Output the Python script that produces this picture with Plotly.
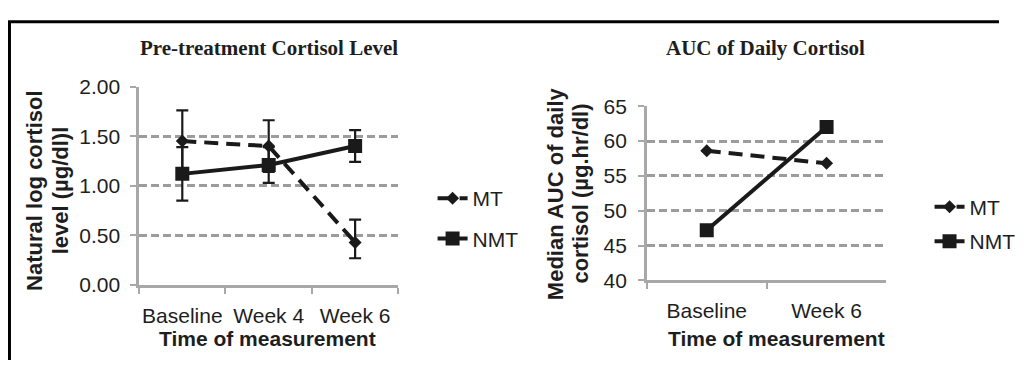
import plotly.graph_objects as go

# page has an 8px body margin; the figure is sized so the page fits the window
OFF = 8
W, H = 1029 - 2 * OFF, 379 - 2 * OFF

# ---------- data ----------
cats_left = ["Baseline", "Week 4", "Week 6"]
mt_left = [1.45, 1.40, 0.43]
mt_left_err_plus = [0.31, 0.26, 0.23]
mt_left_err_minus = [0.31, 0.26, 0.16]
nmt_left = [1.12, 1.21, 1.40]
nmt_left_err_plus = [0.27, 0.18, 0.16]
nmt_left_err_minus = [0.27, 0.18, 0.16]

cats_right = ["Baseline", "Week 6"]
mt_right = [58.6, 56.8]
nmt_right = [47.2, 62.0]

left_yticks = [0.0, 0.5, 1.0, 1.5, 2.0]
right_yticks = [40, 45, 50, 55, 60, 65]

# ---------- helpers (reference-window pixels -> paper) ----------
def px(x):
    return (x - OFF) / W

def py(y):
    return 1 - (y - OFF) / H

FONT = "Liberation Sans, Arial, sans-serif"
SERIF = "Liberation Serif, Times New Roman, serif"
TXT = "#1e1e1e"
GRID = "#9c9c9c"
AX = "#a8a8a8"
MT_DASH = "14px,8px"
FS = 21

fig = go.Figure()

# Left chart
fig.add_trace(go.Scatter(
    x=cats_left, y=mt_left, name="MT", mode="lines+markers",
    line=dict(color="#1a1a1a", width=4, dash=MT_DASH),
    marker=dict(symbol="diamond", size=10, color="#1a1a1a"),
    error_y=dict(type="data", symmetric=False, array=mt_left_err_plus,
                 arrayminus=mt_left_err_minus, color="#1a1a1a", thickness=2.2, width=6),
    xaxis="x", yaxis="y", legend="legend", legendgroup="mt1",
))
fig.add_trace(go.Scatter(
    x=cats_left, y=nmt_left, name="NMT", mode="lines+markers",
    line=dict(color="#1a1a1a", width=4),
    marker=dict(symbol="square", size=14, color="#1a1a1a"),
    error_y=dict(type="data", symmetric=False, array=nmt_left_err_plus,
                 arrayminus=nmt_left_err_minus, color="#1a1a1a", thickness=2.2, width=6),
    xaxis="x", yaxis="y", legend="legend", legendgroup="nmt1",
))

# Right chart
fig.add_trace(go.Scatter(
    x=cats_right, y=mt_right, name="MT", mode="lines+markers",
    line=dict(color="#1a1a1a", width=4, dash=MT_DASH),
    marker=dict(symbol="diamond", size=10, color="#1a1a1a"),
    xaxis="x2", yaxis="y2", legend="legend2", legendgroup="mt2",
))
fig.add_trace(go.Scatter(
    x=cats_right, y=nmt_right, name="NMT", mode="lines+markers",
    line=dict(color="#1a1a1a", width=4),
    marker=dict(symbol="square", size=14, color="#1a1a1a"),
    xaxis="x2", yaxis="y2", legend="legend2", legendgroup="nmt2",
))

axis_common = dict(
    showline=True, linecolor=AX, linewidth=2.5,
    ticks="outside", tickcolor=AX, tickwidth=2, ticklen=6,
    tickfont=dict(family=FONT, size=FS, color=TXT),
    zeroline=False, fixedrange=True, tickangle=0,
)

fig.update_layout(
    width=W, height=H,
    margin=dict(l=0, r=0, t=0, b=0),
    paper_bgcolor="white", plot_bgcolor="white",
    xaxis=dict(domain=[px(142), px(407)], anchor="y", type="category",
               range=[-0.5, 2.5], tickson="boundaries", showgrid=False,
               ticklabelstandoff=10, **axis_common),
    yaxis=dict(domain=[py(291), py(79)], anchor="x", range=[0, 2],
               tickvals=left_yticks, tickformat=".2f",
               showgrid=True, gridcolor=GRID, gridwidth=2.5, griddash="8px,4px",
               ticklabelstandoff=6, **axis_common),
    xaxis2=dict(domain=[px(661), px(906)], anchor="y2", type="category",
                range=[-0.5, 1.5], tickson="boundaries", showgrid=False,
                ticklabelstandoff=10, **axis_common),
    yaxis2=dict(domain=[py(286), py(100)], anchor="x2", range=[40, 65],
                tickvals=right_yticks,
                showgrid=True, gridcolor=GRID, gridwidth=2.5, griddash="8px,4px",
                ticklabelstandoff=7, **axis_common),
    showlegend=True,
    legend=dict(x=px(442), y=py(220), xanchor="left", yanchor="middle",
                font=dict(family=FONT, size=FS, color=TXT),
                traceorder="grouped", tracegroupgap=10,
                bgcolor="rgba(0,0,0,0)", itemwidth=30),
    legend2=dict(x=px(950), y=py(226), xanchor="left", yanchor="middle",
                 font=dict(family=FONT, size=FS, color=TXT),
                 traceorder="grouped", tracegroupgap=4,
                 bgcolor="rgba(0,0,0,0)", itemwidth=30),
)

annotations = [
    # titles
    dict(text="<b>Pre-treatment Cortisol Level</b>", x=px(275), y=py(38),
         font=dict(family=SERIF, size=21, color=TXT)),
    dict(text="<b>AUC of Daily Cortisol</b>", x=px(782), y=py(38),
         font=dict(family=SERIF, size=21, color=TXT)),
    # x titles
    dict(text="<b>Time of measurement</b>", x=px(273), y=py(348),
         font=dict(family=FONT, size=21, color=TXT)),
    dict(text="<b>Time of measurement</b>", x=px(794), y=py(348),
         font=dict(family=FONT, size=21, color=TXT)),
    # y titles
    dict(text="<b>Natural log cortisol</b>", x=px(35), y=py(190), textangle=-90,
         font=dict(family=FONT, size=22, color=TXT)),
    dict(text="<b>level (µg/dl)l</b>", x=px(62), y=py(190), textangle=-90,
         font=dict(family=FONT, size=22, color=TXT)),
    dict(text="<b>Median AUC of daily</b>", x=px(567), y=py(193), textangle=-90,
         font=dict(family=FONT, size=22, color=TXT)),
    dict(text="<b>cortisol (µg.hr/dl)</b>", x=px(593), y=py(193), textangle=-90,
         font=dict(family=FONT, size=22, color=TXT)),
]
for a in annotations:
    a.update(xref="paper", yref="paper", xanchor="center", yanchor="middle",
             showarrow=False)
fig.update_layout(annotations=annotations)

# outer frame (top and left edges)
fig.update_layout(shapes=[
    dict(type="line", xref="paper", yref="paper", x0=px(8), x1=1.0,
         y0=py(10), y1=py(10), line=dict(color="black", width=3)),
    dict(type="line", xref="paper", yref="paper", x0=px(9.5), x1=px(9.5),
         y0=py(9), y1=0, line=dict(color="black", width=3)),
])

fig.write_html("out.html")
